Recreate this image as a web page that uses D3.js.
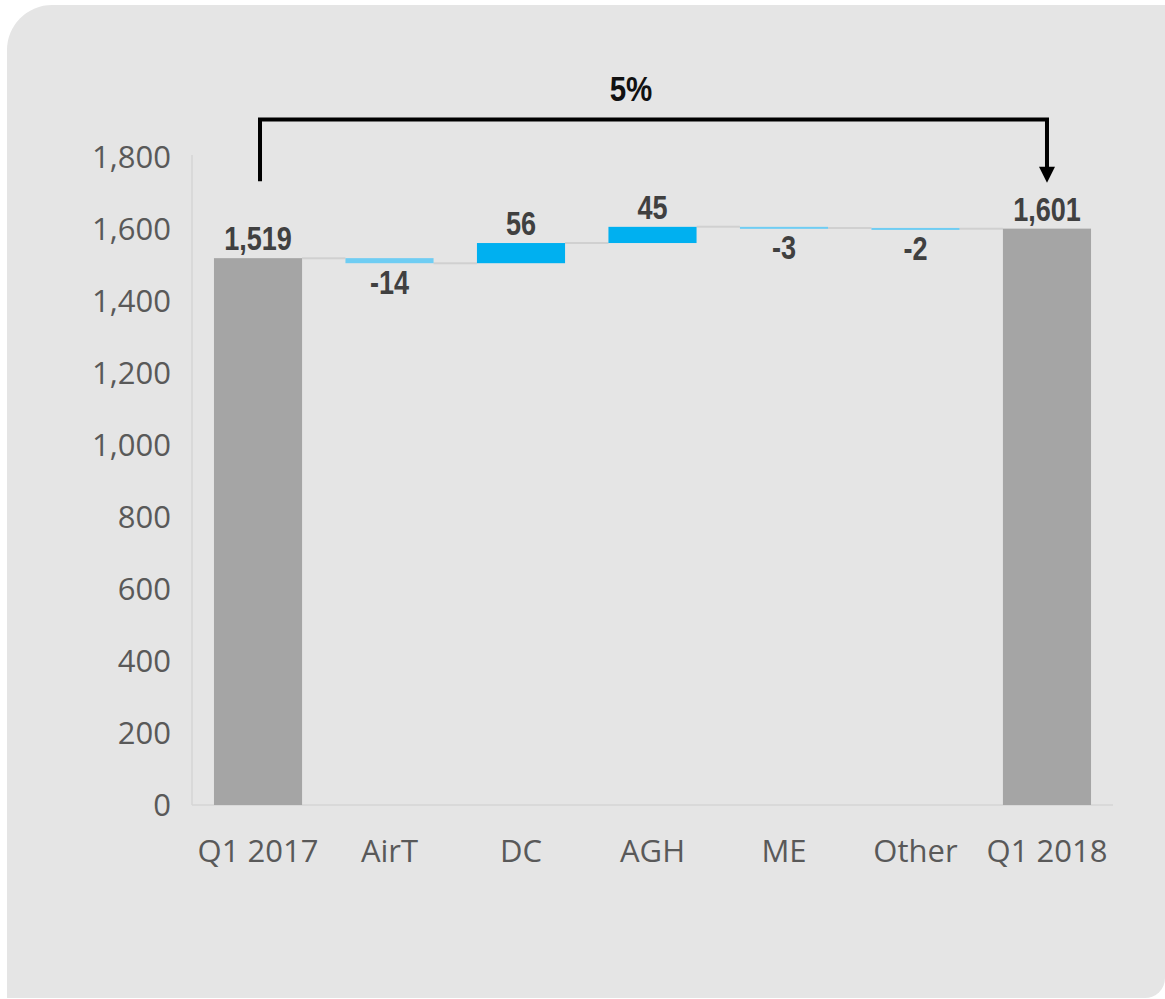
<!DOCTYPE html>
<html>
<head>
<meta charset="utf-8">
<script src="https://cdn.jsdelivr.net/npm/d3@7"></script>
<style>
  body { margin: 0; background: #ffffff; }
  .tick-label { font-family: "Open Sans", "Noto Sans", sans-serif; fill: #595959; }
  .value-label { font-family: "Liberation Sans", Arial, sans-serif; font-weight: bold; fill: #404040; }
</style>
</head>
<body>
<script>
// Chart data
const categories = ["Q1 2017", "AirT", "DC", "AGH", "ME", "Other", "Q1 2018"];
const values = [1519, -14, 56, 45, -3, -2, 1601];
const isTotal = [true, false, false, false, false, false, true];
const yTicks = [0, 200, 400, 600, 800, 1000, 1200, 1400, 1600, 1800];
const changeLabel = "5%";

const width = 1165;
const height = 999;

// plain hyphen for negatives, like the source chart
const fmt = (v) => d3.format(",")(v).replace("\u2212", "-");
// Arial Narrow is Arial squeezed to ~82%
const narrow = 0.82;

const svg = d3.select("body")
  .append("svg")
  .attr("width", width)
  .attr("height", height);

// Card background: rounded top-left and bottom-right corners
const bgPath = d3.path();
bgPath.moveTo(7, 50);
bgPath.arcTo(7, 5, 52, 5, 45);
bgPath.lineTo(width, 5);
bgPath.lineTo(width, 978);
bgPath.arcTo(width, 998, width - 20, 998, 20);
bgPath.lineTo(7, 998);
bgPath.closePath();
svg.append("path").attr("d", bgPath.toString()).attr("fill", "#e5e5e5");

// Scales
const x = d3.scaleBand()
  .domain(categories)
  .range([192, 1113])
  .paddingInner(0.33)
  .paddingOuter(0.167);

const y = d3.scaleLinear()
  .domain([0, 1800])
  .range([805, 157]);

// Waterfall segments
let running = 0;
const bars = categories.map((c, i) => {
  let start, end;
  if (isTotal[i]) {
    start = 0;
    end = values[i];
    running = values[i];
  } else {
    start = running;
    end = running + values[i];
    running = end;
  }
  return { cat: c, value: values[i], total: isTotal[i], start, end };
});

// Axes lines
const axisColor = "#d4d4d4";
svg.append("line")
  .attr("x1", 192).attr("x2", 192)
  .attr("y1", y(1800) - 2).attr("y2", y(0))
  .attr("stroke", axisColor).attr("stroke-width", 1.5);
svg.append("line")
  .attr("x1", 192).attr("x2", 1113)
  .attr("y1", y(0)).attr("y2", y(0))
  .attr("stroke", axisColor).attr("stroke-width", 1.5);

// Y tick labels
svg.selectAll(".ytick")
  .data(yTicks)
  .enter()
  .append("text")
  .attr("class", "tick-label")
  .attr("x", 171)
  .attr("y", (d) => y(d))
  .attr("dy", "0.35em")
  .attr("text-anchor", "end")
  .style("font-size", "31px")
  .text((d) => fmt(d));

// X category labels
svg.selectAll(".xtick")
  .data(categories)
  .enter()
  .append("text")
  .attr("class", "tick-label")
  .attr("x", (d) => x(d) + x.bandwidth() / 2)
  .attr("y", 862)
  .attr("text-anchor", "middle")
  .style("font-size", "31px")
  .text((d) => d);

// Connectors between bars
svg.selectAll(".connector")
  .data(bars.slice(0, -1))
  .enter()
  .append("line")
  .attr("x1", (d) => x(d.cat) + x.bandwidth())
  .attr("x2", (d, i) => x(categories[i + 1]))
  .attr("y1", (d) => y(d.end))
  .attr("y2", (d) => y(d.end))
  .attr("stroke", "#d0d0d0")
  .attr("stroke-width", 2);

// Bars
svg.selectAll(".bar")
  .data(bars)
  .enter()
  .append("rect")
  .attr("x", (d) => x(d.cat))
  .attr("width", x.bandwidth())
  .attr("y", (d) => y(Math.max(d.start, d.end)))
  .attr("height", (d) => Math.max(2, Math.abs(y(d.start) - y(d.end))))
  .attr("fill", (d) => (d.total ? "#a5a5a5" : d.value >= 0 ? "#00b0f0" : "#6fcdf3"));

// Value labels
svg.selectAll(".vlabel")
  .data(bars)
  .enter()
  .append("text")
  .attr("class", "value-label")
  .attr("transform", (d) => {
    const lx = x(d.cat) + x.bandwidth() / 2;
    const ly = d.value >= 0 ? y(Math.max(d.start, d.end)) - 8 : y(Math.min(d.start, d.end)) + 31;
    return `translate(${lx},${ly}) scale(${narrow},1)`;
  })
  .attr("text-anchor", "middle")
  .style("font-size", "33px")
  .text((d) => fmt(d.value));

// Change bracket from first to last total
const first = bars[0];
const last = bars[bars.length - 1];
const xa = x(first.cat) + x.bandwidth() / 2 + 2;
const xb = x(last.cat) + x.bandwidth() / 2;
const bracketY = 119.5;

svg.append("path")
  .attr("d", `M${xa},${y(first.end) - 77} V${bracketY} H${xb} V${y(last.end) - 58}`)
  .attr("fill", "none")
  .attr("stroke", "#000")
  .attr("stroke-width", 4);

svg.append("path")
  .attr("d", `M${xb - 8},${y(last.end) - 62} L${xb + 8},${y(last.end) - 62} L${xb},${y(last.end) - 46} Z`)
  .attr("fill", "#000");

// the percentage label sits left of the bracket's midpoint in the source
svg.append("text")
  .attr("class", "value-label")
  .attr("transform", `translate(631,101) scale(${narrow},1)`)
  .attr("text-anchor", "middle")
  .style("font-size", "36px")
  .style("fill", "#111")
  .text(changeLabel);
</script>
</body>
</html>
